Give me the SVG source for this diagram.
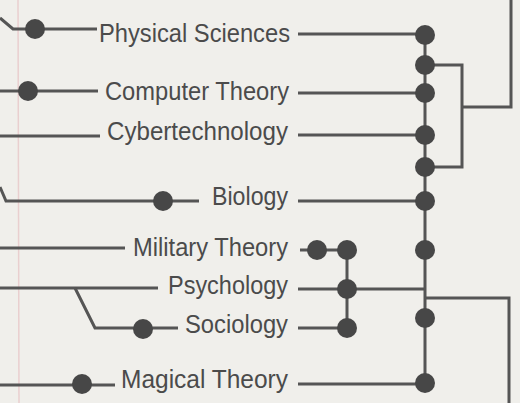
<svg xmlns="http://www.w3.org/2000/svg" width="520" height="403" viewBox="0 0 520 403">
<style>
.bg{fill:#f0efeb}
.ln{fill:none;stroke:#555;stroke-width:3;stroke-linejoin:miter}
.dot{fill:#474747}
.lbl{font-family:"Liberation Sans",Arial,Helvetica,sans-serif;font-size:25px;fill:#4b4b4b;text-anchor:end}
.margin{stroke:#e9cfcf;stroke-width:1.5}
</style>
<rect class="bg" x="0" y="0" width="520" height="403"/>
<line class="margin" x1="18" y1="0" x2="19" y2="403"/>
<g id="connectors">
  <polyline class="ln" points="0,18 13,29 97,29"/>
  <line class="ln" x1="0" y1="91" x2="98" y2="91"/>
  <line class="ln" x1="0" y1="136" x2="100" y2="136"/>
  <polyline class="ln" points="0,187 6,201 199,201"/>
  <line class="ln" x1="0" y1="248" x2="125" y2="248"/>
  <line class="ln" x1="0" y1="288" x2="158" y2="288"/>
  <polyline class="ln" points="75,288 95,328 178,328"/>
  <line class="ln" x1="0" y1="385" x2="115" y2="385"/>
  <line class="ln" x1="298" y1="34" x2="425" y2="34"/>
  <line class="ln" x1="298" y1="93" x2="425" y2="93"/>
  <line class="ln" x1="298" y1="135" x2="425" y2="135"/>
  <line class="ln" x1="298" y1="201" x2="425" y2="201"/>
  <line class="ln" x1="300" y1="250" x2="347" y2="250"/>
  <line class="ln" x1="298" y1="289" x2="425" y2="289"/>
  <line class="ln" x1="298" y1="328" x2="347" y2="328"/>
  <line class="ln" x1="298" y1="384" x2="425" y2="384"/>
  <line class="ln" x1="347" y1="250" x2="347" y2="328"/>
  <line class="ln" x1="425" y1="34" x2="425" y2="384"/>
  <polyline class="ln" points="425,65 462,65 462,167 425,167"/>
  <polyline class="ln" points="462,107 511,107 511,0"/>
  <polyline class="ln" points="425,298 509,298 509,403"/>
</g>
<g id="dots-left">
  <circle class="dot" cx="35" cy="29" r="10"/>
  <circle class="dot" cx="28" cy="91" r="10"/>
  <circle class="dot" cx="163" cy="201" r="10"/>
  <circle class="dot" cx="143" cy="329" r="10"/>
  <circle class="dot" cx="82" cy="384" r="10"/>
</g>
<g id="dots-right">
  <circle class="dot" cx="425" cy="35" r="10"/>
  <circle class="dot" cx="425" cy="65" r="10"/>
  <circle class="dot" cx="425" cy="93" r="10"/>
  <circle class="dot" cx="425" cy="135" r="10"/>
  <circle class="dot" cx="425" cy="167" r="10"/>
  <circle class="dot" cx="425" cy="201" r="10"/>
  <circle class="dot" cx="425" cy="250" r="10"/>
  <circle class="dot" cx="425" cy="318" r="10"/>
  <circle class="dot" cx="425" cy="383" r="10"/>
  <circle class="dot" cx="317" cy="250" r="10"/>
  <circle class="dot" cx="347" cy="250" r="10"/>
  <circle class="dot" cx="347" cy="289" r="10"/>
  <circle class="dot" cx="347" cy="328" r="10"/>
</g>
<g id="node-physical-sciences"><text class="lbl" x="290" y="42" textLength="191" lengthAdjust="spacingAndGlyphs">Physical Sciences</text></g>
<g id="node-computer-theory"><text class="lbl" x="289" y="100" textLength="184" lengthAdjust="spacingAndGlyphs">Computer Theory</text></g>
<g id="node-cybertechnology"><text class="lbl" x="288" y="140" textLength="181" lengthAdjust="spacingAndGlyphs">Cybertechnology</text></g>
<g id="node-biology"><text class="lbl" x="288" y="205" textLength="76" lengthAdjust="spacingAndGlyphs">Biology</text></g>
<g id="node-military-theory"><text class="lbl" x="288" y="256" textLength="155" lengthAdjust="spacingAndGlyphs">Military Theory</text></g>
<g id="node-psychology"><text class="lbl" x="288" y="294" textLength="120" lengthAdjust="spacingAndGlyphs">Psychology</text></g>
<g id="node-sociology"><text class="lbl" x="288" y="333" textLength="103" lengthAdjust="spacingAndGlyphs">Sociology</text></g>
<g id="node-magical-theory"><text class="lbl" x="288" y="388" textLength="167" lengthAdjust="spacingAndGlyphs">Magical Theory</text></g>
</svg>
